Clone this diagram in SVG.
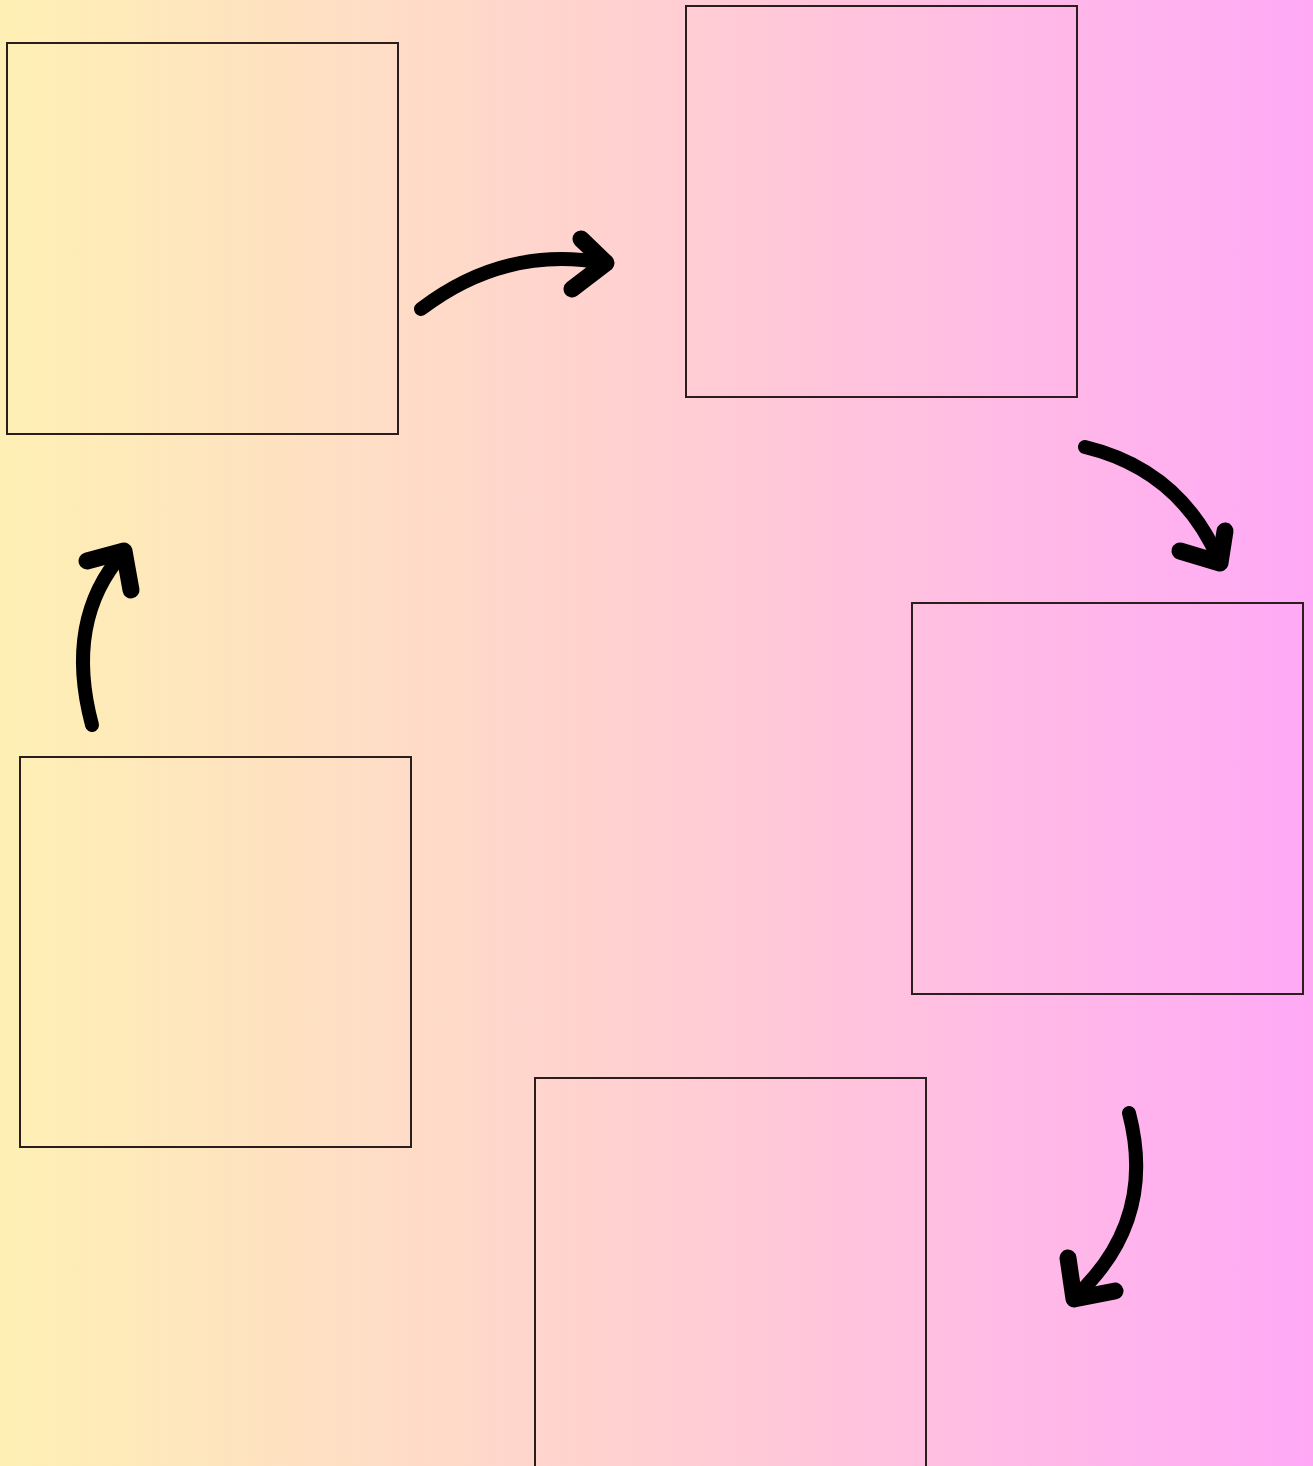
<svg xmlns="http://www.w3.org/2000/svg" width="1313" height="1466" viewBox="0 0 1313 1466">
<defs>
<linearGradient id="bg" x1="0" y1="0" x2="1" y2="0">
<stop offset="0" stop-color="#FEF0B4"/>
<stop offset="0.5" stop-color="#FFCFD2"/>
<stop offset="1" stop-color="#FFA9F6"/>
</linearGradient>
<style>
.box{fill:none;stroke:#2b1d1d;stroke-width:2}
.arr{fill:none;stroke:#000;stroke-width:14;stroke-linecap:round;stroke-linejoin:round}
.head{fill:none;stroke:#000;stroke-width:17;stroke-linecap:round;stroke-linejoin:round}
</style>
</defs>
<rect x="0" y="0" width="1313" height="1466" fill="url(#bg)"/>
<g id="node1"><rect class="box" x="7" y="43" width="391" height="391"/></g>
<g id="node2"><rect class="box" x="686" y="6" width="391" height="391"/></g>
<g id="node3"><rect class="box" x="912" y="603" width="391" height="391"/></g>
<g id="node4"><rect class="box" x="20" y="757" width="391" height="390"/></g>
<g id="node5"><rect class="box" x="535" y="1078" width="391" height="392"/></g>
<g id="connectors">
<path class="arr" d="M421,309 Q505,245 604,263"/>
<path class="head" d="M581,239 L606,263 L572,289"/>
<path class="arr" d="M1085,447 Q1180,470 1219,560"/>
<path class="head" d="M1180,551 L1220,563 L1225,531"/>
<path class="arr" d="M92,725 Q64,620 123,553"/>
<path class="head" d="M87,561 L124,551 L131,590"/>
<path class="arr" d="M1129,1113 Q1157,1220 1076,1296"/>
<path class="head" d="M1068,1258 L1074,1299 L1115,1291"/>
</g>
</svg>
